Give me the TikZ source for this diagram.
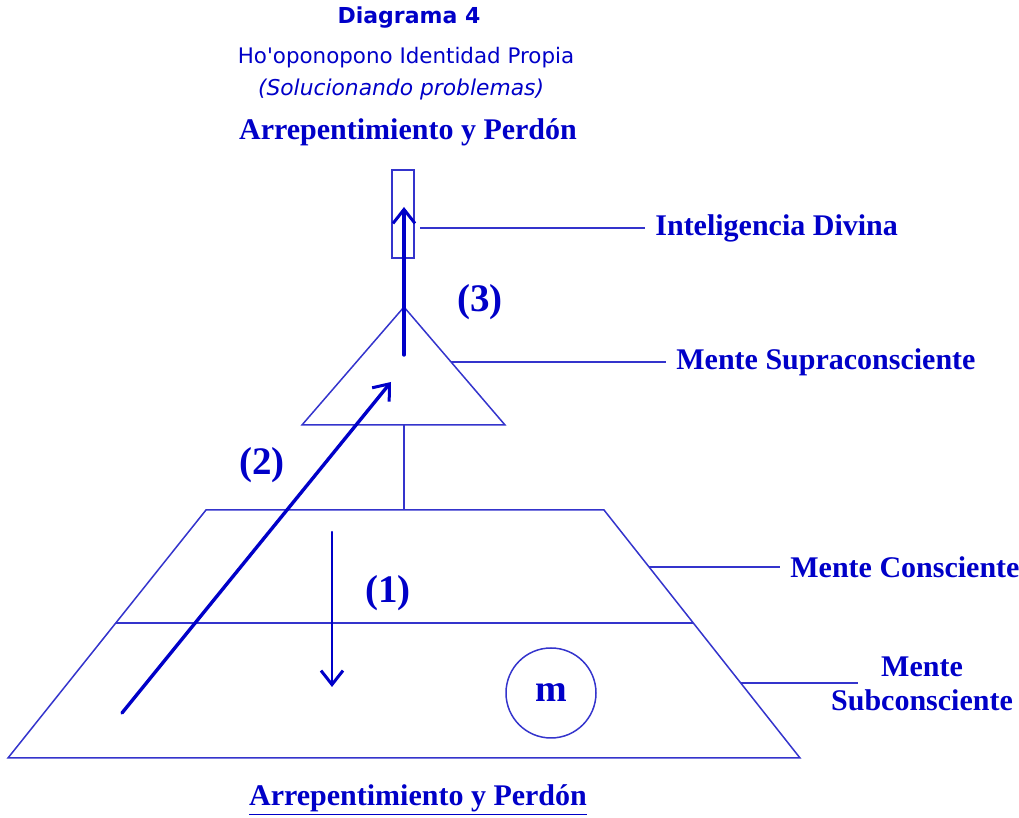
\documentclass[tikz,border=0pt]{standalone}
\usepackage{fontspec}
\setmainfont{Liberation Serif}
\newfontfamily\headfont{DejaVu Sans}
\usetikzlibrary{arrows.meta}
\definecolor{hoblue}{HTML}{0000C8}
\definecolor{holine}{HTML}{3434CC}

\begin{document}
\begin{tikzpicture}[x=.5pt,y=.5pt,
    shape line/.style={holine,line width=.75pt},
    lead line/.style={holine,line width=.9pt},
    flow arrow/.style={hoblue,line width=1.7pt,line cap=round,
      -{Straight Barb[length=7pt,width=11pt,line width=1.5pt]}},
    level label/.style={anchor=west,text=hoblue,inner sep=5pt,
      font=\fontsize{15}{17}\selectfont\bfseries},
    step label/.style={text=hoblue,font=\fontsize{19.5}{22}\selectfont\bfseries}]
    \useasboundingbox (0,0) rectangle (1019,818);
    % heading
    \node[text=hoblue,font=\headfont\fontsize{11}{13}\selectfont\bfseries]
      (head) at (409,800) {Diagrama 4};
    \node[text=hoblue,font=\headfont\fontsize{10.7}{12}\selectfont]
      (sub) at (406,760) {Ho'oponopono Identidad Propia};
    \node[text=hoblue,font=\headfont\fontsize{10.9}{12}\selectfont\itshape]
      (sol) at (401,728) {(Solucionando problemas)};
    \node[text=hoblue,font=\fontsize{15}{17}\selectfont\bfseries]
      (toptitle) at (408,686) {Arrepentimiento y Perdón};
    % pyramid
    \draw[shape line] (392,560) rectangle (414,648);
    \draw[shape line] (404,511) -- (505,393) -- (302,393) -- cycle;
    \draw[shape line] (404,393) -- (404,308);
    \draw[shape line] (8,60) -- (800,60) -- (604,308) -- (206,308) -- cycle;
    \draw[shape line] (116,195) -- (693,195);
    \node[draw=holine,line width=.75pt,circle,minimum size=45pt,inner sep=0pt,
      text=hoblue,font=\fontsize{19}{21}\selectfont\bfseries] (mem) at (551,125) {m};
    % anchors on the shapes
    \coordinate (divina) at (420,590);
    \coordinate (supra) at (451,456);
    \coordinate (consc) at (649,251);
    \coordinate (subc) at (741,135);
    \coordinate (upfrom) at (404,463);
    \coordinate (upto) at (404,611);
    \coordinate (downfrom) at (332,286);
    \coordinate (downto) at (332,131);
    \coordinate (diagfrom) at (122,105);
    \coordinate (diagto) at (391,436);
    % level labels
    \node[level label] (lbldivina) at (645,590) {Inteligencia Divina};
    \node[level label] (lblsupra) at (666,456) {Mente Supraconsciente};
    \node[level label] (lblconsc) at (780,251) {Mente Consciente};
    \node[text=hoblue,align=center,font=\fontsize{15}{17}\selectfont\bfseries]
      (lblsubc) at (922,134) {Mente\\Subconsciente};
    \draw[holine,line width=.6pt] (divina) -- (divina -| lbldivina.west);
    \draw[lead line] (supra) -- (supra -| lblsupra.west);
    \draw[lead line] (consc) -- (consc -| lblconsc.west);
    \draw[lead line] (subc) -- ++(117,0);
    % steps
    \draw[flow arrow] (upfrom) -- (upto);
    \draw[flow arrow,line width=1.2pt] (downfrom) -- (downto);
    \draw[flow arrow] (diagfrom) -- (diagto);
    \node[step label] (one) at (388,225) {(1)};
    \node[step label] (two) at (262,353) {(2)};
    \node[step label] (three) at (480,516) {(3)};
    % footer
    \node[text=hoblue,font=\fontsize{15}{17}\selectfont\bfseries]
      (bottomtitle) at (418,18) {\underline{Arrepentimiento y Perdón}};
  \end{tikzpicture}
\end{document}
